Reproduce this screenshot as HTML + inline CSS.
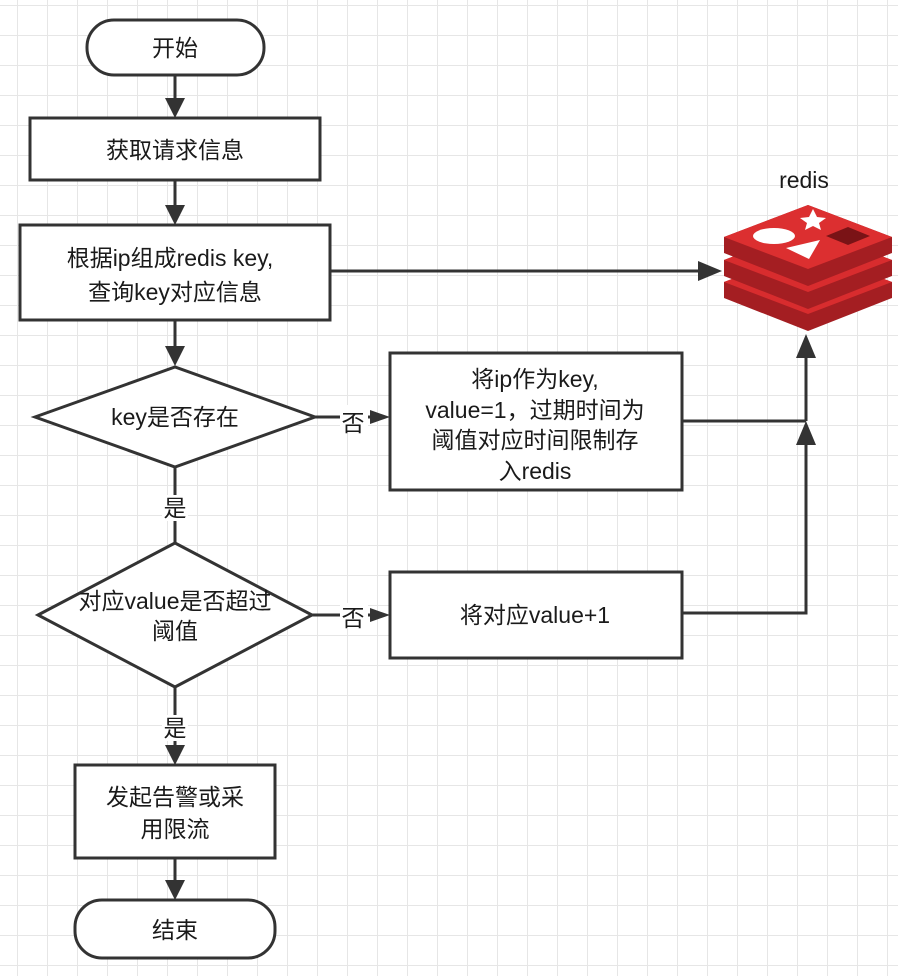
<!DOCTYPE html>
<html><head><meta charset="utf-8"><style>
body{margin:0;width:898px;height:976px;overflow:hidden;background:#fff;}
svg{display:block}
text{font-family:"Liberation Sans","Noto Sans CJK SC",sans-serif;font-size:23px;fill:#1a1a1a;text-anchor:middle;dominant-baseline:central}
</style></head><body>
<svg width="898" height="976" viewBox="0 0 898 976">
<defs>
<pattern id="g" width="30" height="30" patternUnits="userSpaceOnUse" x="17" y="5">
<path d="M0 0H30M0 0V30" stroke="#e6e6e6" stroke-width="2" fill="none"/>
</pattern>
</defs>
<rect width="898" height="976" fill="url(#g)"/>
<g stroke="#333" stroke-width="3" fill="none">
<path d="M175 75V100M175 180V207M175 320V348M175 467V545M175 687V747M175 858V882"/>
<path d="M330 271H700"/>
<path d="M315 417H372"/>
<path d="M312 615H372"/>
<path d="M682 421H806M682 613H806V445M806 421V355"/>
</g>
<g stroke="#333" stroke-width="3" fill="#fff">
<rect x="87" y="20" width="177" height="55" rx="27"/>
<rect x="30" y="118" width="290" height="62"/>
<rect x="20" y="225" width="310" height="95"/>
<polygon points="35,417 175,367 315,417 175,467"/>
<polygon points="38,615 175,543 312,615 175,687"/>
<rect x="390" y="353" width="292" height="137"/>
<rect x="390" y="572" width="292" height="86"/>
<rect x="75" y="765" width="200" height="93"/>
<rect x="75" y="900" width="200" height="58" rx="27"/>
</g>
<g fill="#fff">
<rect x="340" y="405" width="28" height="26"/>
<rect x="340" y="603" width="28" height="26"/>
<rect x="162" y="495" width="26" height="26"/>
<rect x="162" y="715" width="26" height="26"/>
</g>
<g fill="#333">
<polygon points="165,98 185,98 175,118"/>
<polygon points="165,205 185,205 175,225"/>
<polygon points="165,346 185,346 175,366"/>
<polygon points="165,745 185,745 175,765"/>
<polygon points="165,880 185,880 175,900"/>
<polygon points="698,261 698,281 722,271"/>
<polygon points="370,410 370,424 390,417"/>
<polygon points="370,608 370,622 390,615"/>
<polygon points="796,445 816,445 806,421"/>
<polygon points="796,358 816,358 806,334"/>
</g>
<text x="175" y="48">开始</text>
<text x="175" y="150">获取请求信息</text>
<text x="170" y="258">根据ip组成redis key,</text>
<text x="175" y="292">查询key对应信息</text>
<text x="175" y="417">key是否存在</text>
<text x="353" y="423">否</text>
<text x="175" y="508">是</text>
<text x="175" y="601">对应value是否超过</text>
<text x="175" y="631">阈值</text>
<text x="353" y="618">否</text>
<text x="175" y="728">是</text>
<text x="535" y="379">将ip作为key,</text>
<text x="535" y="410">value=1，过期时间为</text>
<text x="535" y="440">阈值对应时间限制存</text>
<text x="535" y="471">入redis</text>
<text x="535" y="615">将对应value+1</text>
<text x="175" y="797">发起告警或采</text>
<text x="175" y="829">用限流</text>
<text x="175" y="930">结束</text>
<text x="804" y="180">redis</text>
<g>
<path d="M724 282 L808 250 L892 282 L892 298 L808 331 L724 298Z" fill="#a41e22"/>
<path d="M724 282 L808 250 L892 282 L808 314Z" fill="#d82c2e"/>
<path d="M724 260 L808 228 L892 260 L892 276 L808 309 L724 276Z" fill="#a41e22"/>
<path d="M724 260 L808 228 L892 260 L808 292Z" fill="#d82c2e"/>
<path d="M724 237 L808 205 L892 237 L892 253 L808 286 L724 253Z" fill="#a41e22"/>
<path d="M724 237 L808 205 L892 237 L808 269Z" fill="#dc2f30"/>
<ellipse cx="774" cy="236" rx="21" ry="8" fill="#fff"/>
<polygon points="813,209 817,217 826,218 819,223 821,230 813,226 805,230 807,223 800,218 809,217" fill="#fff"/>
<polygon points="786,248 820,240 809,259" fill="#fff"/>
<polygon points="826,236 848,227 870,236 848,245" fill="#7a1316"/>
</g>
</svg>
</body></html>
